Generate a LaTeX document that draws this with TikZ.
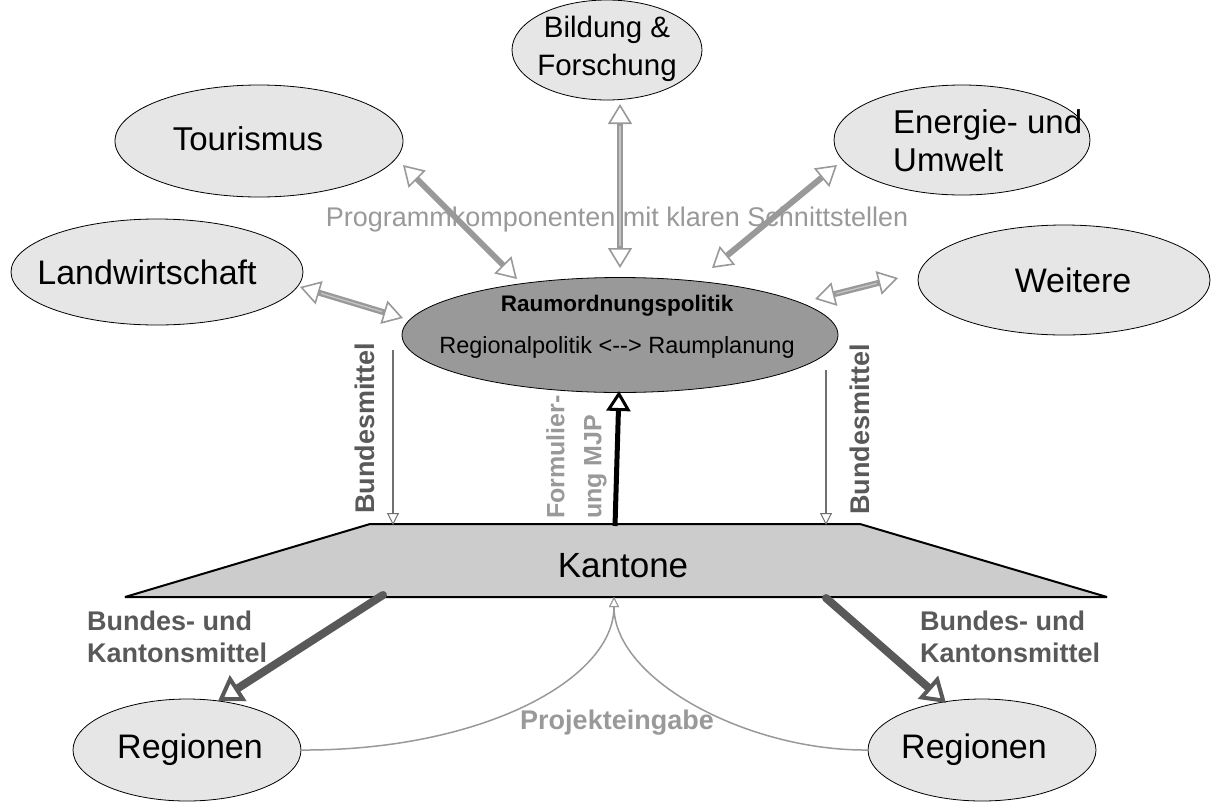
\documentclass[tikz,border=0pt]{standalone}
\usepackage{fontspec}
\setmainfont{Liberation Sans}
\usetikzlibrary{arrows.meta,shapes.geometric}
\definecolor{ellfill}{HTML}{E6E6E6}
\definecolor{raumfill}{HTML}{999999}
\definecolor{kantfill}{HTML}{CCCCCC}
\definecolor{shaftcol}{HTML}{999999}
\definecolor{shaftin}{HTML}{C4C4C4}
\definecolor{darkcol}{HTML}{595959}
\definecolor{lblcol}{HTML}{999999}
\definecolor{thincol}{HTML}{707070}
\begin{document}
\begin{tikzpicture}[x=1pt,y=-1pt,
  ell/.style={ellipse, draw=black, line width=0.8pt, fill=ellfill, inner sep=0pt},
  elltext/.style={inner sep=0pt, font=\fontsize{#1}{38}\selectfont},
  twoway/.style={draw=shaftcol, line width=6pt,
    arrows={Triangle[fill=white, line width'=1.6pt, length=20pt 0, width=24pt 0]-Triangle[fill=white, line width'=1.6pt, length=20pt 0, width=24pt 0]}},
  innerstripe/.style={draw=shaftin, line width=1.3pt, shorten <=22pt, shorten >=22pt},
  thinarrow/.style={draw=thincol, line width=1.1pt,
    arrows={-Triangle[fill=white, line width'=1pt, length=12pt 0, width=12pt 0]}},
  blackarrow/.style={draw=black, line width=5pt,
    arrows={-Triangle[fill=white, line width'=3pt, length=20pt 0, width=24pt 0]}},
  darkarrow/.style={draw=darkcol, line width=8pt, line cap=round,
    arrows={-Triangle[fill=white, line width'=4pt, length=24pt 0, width=30pt 0]}},
  curvearrow/.style={draw=lblcol, line width=1.5pt},
  boldlbl/.style={font=\fontsize{27}{32}\selectfont\bfseries, text=darkcol, inner sep=0pt},
  greylbl/.style={font=\fontsize{27}{32}\selectfont\bfseries, text=lblcol, inner sep=0pt}
]
\useasboundingbox (0,0) rectangle (1215,801);

% background label
\node[font=\fontsize{27}{32}\selectfont, text=lblcol, inner sep=0pt] (prog) at (617,220) {Programmkomponenten mit klaren Schnittstellen};

% ellipses
\node[ell, minimum width=190pt, minimum height=100pt] (bild) at (607,50) {};
\node[elltext=29.5, align=center] (bildtxt) at (607,49) {Bildung \&\\Forschung};
\node[ell, minimum width=288pt, minimum height=112pt] (tour) at (259,141) {};
\node[elltext=33] (tourtxt) at (248,139) {Tourismus};
\node[ell, minimum width=256pt, minimum height=110pt] (ener) at (962,140) {};
\node[elltext=33, align=left, anchor=west] (enertxt) at (893,141) {Energie- und\\Umwelt};
\node[ell, minimum width=292pt, minimum height=106pt] (land) at (157,272) {};
\node[elltext=34] (landtxt) at (147,272) {Landwirtschaft};
\node[ell, minimum width=292pt, minimum height=110pt] (weit) at (1064,280) {};
\node[elltext=34] (weittxt) at (1073,280) {Weitere};
\node[ellipse, draw=black, line width=0.8pt, fill=raumfill, inner sep=0pt,
  minimum width=436pt, minimum height=115pt] (raum) at (620,335) {};
\node[font=\fontsize{22.5}{27}\selectfont\bfseries, inner sep=0pt] (raumtitle) at (617,306) {Raumordnungspolitik};
\node[font=\fontsize{23.5}{28}\selectfont, inner sep=0pt] (raumsub) at (617,347) {Regionalpolitik <-{}-> Raumplanung};

% Kantone trapezoid
\draw[fill=kantfill, line width=2pt, line join=bevel] (370,524) -- (860,524) -- (1107,597) -- (125,597) -- cycle;
\node[elltext=35] (kant) at (623,566) {Kantone};

% Regionen
\node[ell, minimum width=228pt, minimum height=102pt] (reg1) at (187,750) {};
\node[elltext=34] (reg1txt) at (190,750) {Regionen};
\node[ell, minimum width=228pt, minimum height=102pt] (reg2) at (982,750) {};
\node[elltext=34] (reg2txt) at (974,750) {Regionen};

% connector end points
\coordinate (t1) at (403,165); \coordinate (t2) at (517,279);
\coordinate (b1) at (620,104); \coordinate (b2) at (620,268);
\coordinate (e1) at (837,165); \coordinate (e2) at (712,268);
\coordinate (l1) at (300,287); \coordinate (l2) at (403,318);
\coordinate (w1) at (898,278); \coordinate (w2) at (815,299);
\coordinate (bm1a) at (393,350); \coordinate (bm1b) at (393,525);
\coordinate (bm2a) at (826,370); \coordinate (bm2b) at (826,525);
\coordinate (fa) at (615,526); \coordinate (fb) at (619,391);
\coordinate (k1) at (383,595); \coordinate (r1t) at (218,701);
\coordinate (k2) at (826,598); \coordinate (r2t) at (946,703);
\coordinate (pk) at (614,597);

% two-way arrows
\draw[twoway] (t1) -- (t2);
\draw[twoway] (b1) -- (b2);
\draw[innerstripe] (b1) -- (b2);
\draw[twoway] (e1) -- (e2);
\draw[twoway] (l1) -- (l2);
\draw[innerstripe] (l1) -- (l2);
\draw[twoway] (w1) -- (w2);
\draw[innerstripe] (w1) -- (w2);

% Bundesmittel
\draw[thinarrow] (bm1a) -- (bm1b);
\draw[thinarrow] (bm2a) -- (bm2b);
\node[boldlbl, rotate=90] (bmlbl1) at (365,428) {Bundesmittel};
\node[boldlbl, rotate=90] (bmlbl2) at (860,429) {Bundesmittel};

% Formulierung MJP
\node[font=\fontsize{25}{37}\selectfont\bfseries, text=lblcol, inner sep=0pt, rotate=90,
  anchor=north west, align=left] (form) at (546,519) {Formulier-\\ung MJP};
\draw[blackarrow] (fa) -- (fb);

% Kantone -> Regionen
\draw[darkarrow] (k1) -- (r1t);
\draw[darkarrow] (k2) -- (r2t);
\node[boldlbl, align=left, anchor=west] (bk1) at (87,637) {Bundes- und\\Kantonsmittel};
\node[boldlbl, align=left, anchor=west] (bk2) at (920,637) {Bundes- und\\Kantonsmittel};

% Projekteingabe
\draw[curvearrow, arrows={-Triangle[fill=white, line width'=1pt, length=10pt 0, width=10pt 0]}]
  (reg1.east) .. controls (480,751) and (614,680) .. (pk);
\draw[curvearrow, arrows={-Triangle[fill=white, line width'=1pt, length=10pt 0, width=10pt 0]}]
  (reg2.west) .. controls (748,751) and (614,680) .. (pk);
\node[greylbl] (proj) at (617,723) {Projekteingabe};
\end{tikzpicture}
\end{document}
